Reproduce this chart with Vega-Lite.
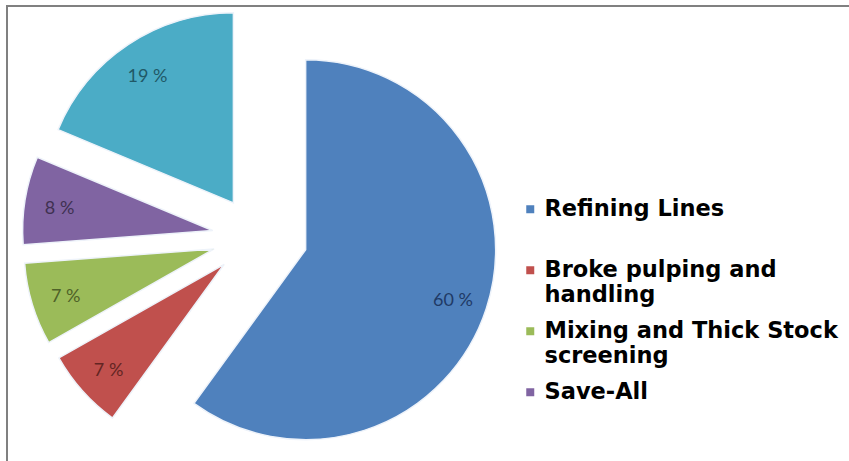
{
  "$schema": "https://vega.github.io/schema/vega-lite/v6.json",
  "width": 842,
  "height": 455,
  "autosize": {"type": "none"},
  "padding": {"left": 7, "top": 6, "right": 0, "bottom": 0},
  "background": "white",
  "view": {"stroke": "#808080", "strokeWidth": 2, "fill": "white", "strokeDash": [842, 1297, 455]},
  "data": {
    "values": [
      {"category": "Refining Lines", "share": 60.0, "label": "60 %", "rank": 1},
      {"category": "Broke pulping and handling", "share": 6.8, "label": "7 %", "rank": 2},
      {"category": "Mixing and Thick Stock screening", "share": 7.0, "label": "7 %", "rank": 3},
      {"category": "Save-All", "share": 7.5, "label": "8 %", "rank": 4},
      {"category": "Others", "share": 18.7, "label": "19 %", "rank": 5}
    ]
  },
  "encoding": {
    "theta": {"field": "share", "type": "quantitative", "stack": true},
    "order": {"field": "rank", "type": "quantitative"}
  },
  "layer": [
    {
      "mark": {
        "type": "arc",
        "x": 253,
        "y": 231,
        "outerRadius": 190,
        "stroke": "#eef3fa",
        "strokeWidth": 1.5,
        "xOffset": {"expr": "48*sin(scale('theta', (datum.share_start + datum.share_end)/2))"},
        "yOffset": {"expr": "-41*cos(scale('theta', (datum.share_start + datum.share_end)/2))"}
      },
      "encoding": {
        "color": {
          "field": "category",
          "type": "nominal",
          "scale": {
            "domain": ["Refining Lines", "Broke pulping and handling", "Mixing and Thick Stock screening", "Save-All", "Others"],
            "range": ["#4F81BD", "#C0504D", "#9BBB59", "#8064A2", "#4BACC6"]
          },
          "legend": {
            "values": ["Refining Lines", "Broke pulping and handling", "Mixing and Thick Stock screening", "Save-All"],
            "orient": "none",
            "legendX": 512,
            "legendY": 192,
            "title": null,
            "padding": 0,
            "symbolType": "square",
            "symbolSize": 64,
            "symbolStrokeWidth": 0,
            "labelFont": "DejaVu Sans",
            "labelFontWeight": "bold",
            "labelFontSize": 22.5,
            "labelColor": "#000000",
            "labelOffset": 3,
            "labelLimit": 400,
            "labelBaseline": "middle",
            "gridAlign": "all",
            "rowPadding": 13,
            "columns": 1,
            "labelExpr": "datum.value == 'Broke pulping and handling' ? ['Broke pulping and', 'handling'] : datum.value == 'Mixing and Thick Stock screening' ? ['Mixing and Thick Stock', 'screening'] : datum.label"
          }
        }
      }
    },
    {
      "mark": {
        "type": "text",
        "x": 253,
        "y": 231,
        "dy": 3,
        "radius": 196,
        "font": "Lato",
        "fontSize": 18,
        "xOffset": {"expr": "7*sin(scale('theta', (datum.share_start + datum.share_end)/2))"}
      },
      "encoding": {
        "text": {"field": "label", "type": "nominal"},
        "color": {
          "field": "category",
          "type": "nominal",
          "scale": {
            "domain": ["Refining Lines", "Broke pulping and handling", "Mixing and Thick Stock screening", "Save-All", "Others"],
            "range": ["#1F3A66", "#632523", "#4F6228", "#3F3151", "#215967"]
          },
          "legend": null
        }
      }
    }
  ],
  "resolve": {"scale": {"color": "independent"}}
}
